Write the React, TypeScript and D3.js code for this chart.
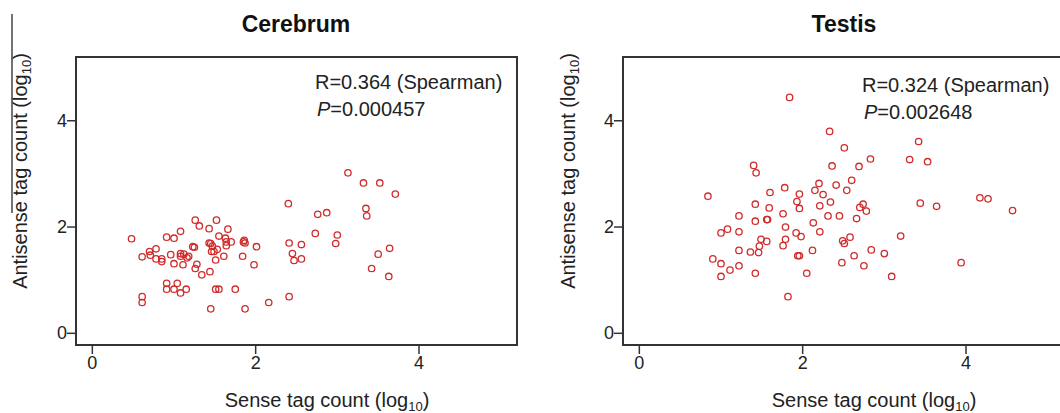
import * as d3 from "d3";

// Cerebrum: [sense log10, antisense log10]
const cerebrumSense = [0.48, 0.61, 0.61, 0.61, 0.70, 0.71, 0.78, 0.78, 0.85, 0.85, 0.91, 0.91, 0.91, 0.96, 1.00, 1.00, 1.00, 1.04, 1.08, 1.08, 1.08, 1.08, 1.11, 1.12, 1.15, 1.16, 1.18, 1.23, 1.25, 1.26, 1.26, 1.28, 1.31, 1.34, 1.43, 1.43, 1.44, 1.45, 1.45, 1.46, 1.47, 1.49, 1.51, 1.51, 1.52, 1.53, 1.55, 1.55, 1.61, 1.63, 1.64, 1.64, 1.66, 1.70, 1.75, 1.84, 1.85, 1.86, 1.87, 1.87, 1.98, 2.01, 2.16, 2.40, 2.41, 2.41, 2.45, 2.47, 2.56, 2.56, 2.73, 2.76, 2.87, 2.98, 3.00, 3.13, 3.32, 3.35, 3.36, 3.42, 3.50, 3.52, 3.64, 3.63, 3.71];
const cerebrumAntisense = [1.78, 1.44, 0.69, 0.58, 1.54, 1.47, 1.59, 1.40, 1.40, 1.35, 1.81, 0.94, 0.83, 1.48, 1.79, 1.31, 0.83, 0.94, 1.92, 1.50, 1.45, 0.76, 1.29, 1.49, 0.83, 1.42, 1.45, 1.63, 1.62, 2.13, 1.22, 1.30, 2.02, 1.10, 1.97, 1.70, 1.16, 0.46, 1.69, 1.54, 1.64, 1.54, 1.38, 0.83, 2.13, 1.58, 0.83, 1.83, 1.45, 1.79, 1.72, 1.65, 1.96, 1.72, 0.83, 1.45, 1.72, 1.75, 1.70, 0.46, 1.29, 1.63, 0.58, 2.44, 1.70, 0.69, 1.50, 1.37, 1.67, 1.40, 1.88, 2.24, 2.27, 1.69, 1.85, 3.02, 2.83, 2.35, 2.21, 1.22, 1.49, 2.83, 1.60, 1.07, 2.62];

// Testis
const testisSense = [0.84, 0.90, 1.00, 1.00, 1.00, 1.08, 1.11, 1.22, 1.22, 1.22, 1.22, 1.36, 1.40, 1.43, 1.42, 1.42, 1.42, 1.46, 1.47, 1.49, 1.56, 1.56, 1.57, 1.59, 1.60, 1.76, 1.76, 1.78, 1.79, 1.79, 1.82, 1.84, 1.92, 1.93, 1.94, 1.96, 1.96, 1.96, 1.98, 2.05, 2.12, 2.13, 2.15, 2.20, 2.21, 2.21, 2.25, 2.31, 2.33, 2.34, 2.36, 2.41, 2.45, 2.48, 2.49, 2.51, 2.51, 2.54, 2.58, 2.60, 2.63, 2.66, 2.69, 2.70, 2.74, 2.75, 2.78, 2.83, 2.84, 3.00, 3.09, 3.20, 3.31, 3.42, 3.44, 3.53, 3.64, 3.94, 4.17, 4.27, 4.57];
const testisAntisense = [2.58, 1.40, 1.89, 1.31, 1.07, 1.96, 1.19, 2.21, 1.91, 1.56, 1.27, 1.53, 3.16, 3.02, 2.43, 2.11, 1.13, 1.52, 1.64, 1.77, 1.73, 2.14, 2.14, 2.36, 2.65, 2.25, 1.65, 2.74, 2.00, 1.77, 0.69, 4.44, 1.89, 2.48, 1.46, 1.46, 2.35, 2.62, 1.82, 1.13, 1.56, 2.08, 2.69, 2.82, 2.40, 1.91, 2.61, 2.21, 3.80, 2.47, 3.15, 2.79, 2.21, 1.33, 1.74, 3.49, 1.69, 2.69, 1.81, 2.88, 1.46, 2.16, 3.14, 2.37, 2.43, 1.27, 2.30, 3.28, 1.57, 1.50, 1.07, 1.83, 3.27, 3.61, 2.45, 3.23, 2.39, 1.33, 2.55, 2.53, 2.31];

const tickValues = [0, 2, 4];
const xDomain = [-0.2, 5.2];
const yDomain = [-0.22, 5.2];

const FONT = "'Liberation Sans', Arial, sans-serif";
const RED = "#d02b2b";
const INK = "#222";

type PanelProps = {
  title: string;
  sense: number[];
  antisense: number[];
  rText: string;
  pText: string;
  left: number;
  titleX: number;
  xLabelX: number;
  yLabelX: number;
  annX: number;
  annY: number;
};

function Panel(p: PanelProps) {
  const x = d3.scaleLinear().domain(xDomain).range([p.left, p.left + 441]);
  const y = d3.scaleLinear().domain(yDomain).range([345, 57]);
  const [x0, x1] = x.range();
  const [yb, yt] = y.range();
  const pts = d3.zip(p.sense, p.antisense);

  return (
    <g>
      <text x={p.titleX} y={32} textAnchor="middle" fontFamily={FONT} fontWeight="bold" fontSize={23} fill="#111">
        {p.title}
      </text>

      {/* frame */}
      <rect x={x0} y={yt} width={x1 - x0} height={yb - yt} fill="none" stroke="#333" strokeWidth={2} />

      {/* y ticks */}
      {tickValues.map((t) => (
        <g key={"y" + t}>
          <line x1={x0 - 9} x2={x0} y1={y(t)} y2={y(t)} stroke="#333" strokeWidth={1.5} />
          <text x={x0 - 9} y={y(t) + 6} textAnchor="end" fontFamily={FONT} fontSize={18} fill={INK}>
            {t}
          </text>
        </g>
      ))}

      {/* x ticks */}
      {tickValues.map((t) => (
        <g key={"x" + t}>
          <line x1={x(t)} x2={x(t)} y1={yb} y2={yb + 9} stroke="#333" strokeWidth={1.5} />
          <text x={x(t)} y={369} textAnchor="middle" fontFamily={FONT} fontSize={18} fill={INK}>
            {t}
          </text>
        </g>
      ))}

      {pts.map(([a, b], i) => (
        <circle key={i} cx={x(a)} cy={y(b)} r={3.2} fill="none" stroke={RED} strokeWidth={1.3} />
      ))}

      <text x={p.annX} y={p.annY} fontFamily={FONT} fontSize={20} fill={INK}>
        {p.rText}
      </text>
      <text x={p.annX + 2} y={p.annY + 27} fontFamily={FONT} fontSize={20} fill={INK}>
        <tspan fontStyle="italic">P</tspan>
        {p.pText}
      </text>

      <text x={p.xLabelX} y={407} textAnchor="middle" fontFamily={FONT} fontSize={20} fill={INK}>
        Sense tag count (log<tspan fontSize={13} dy={4}>10</tspan>
        <tspan dy={-4}>)</tspan>
      </text>

      <text
        transform={`translate(${p.yLabelX},171) rotate(-90)`}
        textAnchor="middle"
        fontFamily={FONT}
        fontSize={20}
        fill={INK}
      >
        Antisense tag count (log<tspan fontSize={13} dy={4}>10</tspan>
        <tspan dy={-4}>)</tspan>
      </text>
    </g>
  );
}

export default function App() {
  return (
    <svg
      width={1060}
      height={413}
      style={{ position: "absolute", left: 0, top: 0, background: "#fff" }}
    >
      <Panel
        title="Cerebrum"
        sense={cerebrumSense}
        antisense={cerebrumAntisense}
        rText="R=0.364 (Spearman)"
        pText="=0.000457"
        left={76}
        titleX={296}
        xLabelX={327}
        yLabelX={27}
        annX={315}
        annY={89}
      />
      <Panel
        title="Testis"
        sense={testisSense}
        antisense={testisAntisense}
        rText="R=0.324 (Spearman)"
        pText="=0.002648"
        left={623}
        titleX={844}
        xLabelX={874}
        yLabelX={575}
        annX={862}
        annY={92}
      />
      {/* stray rule at the far left of the original figure */}
      <line x1={12} x2={12} y1={14} y2={213} stroke="#444" strokeWidth={1.5} />
    </svg>
  );
}
